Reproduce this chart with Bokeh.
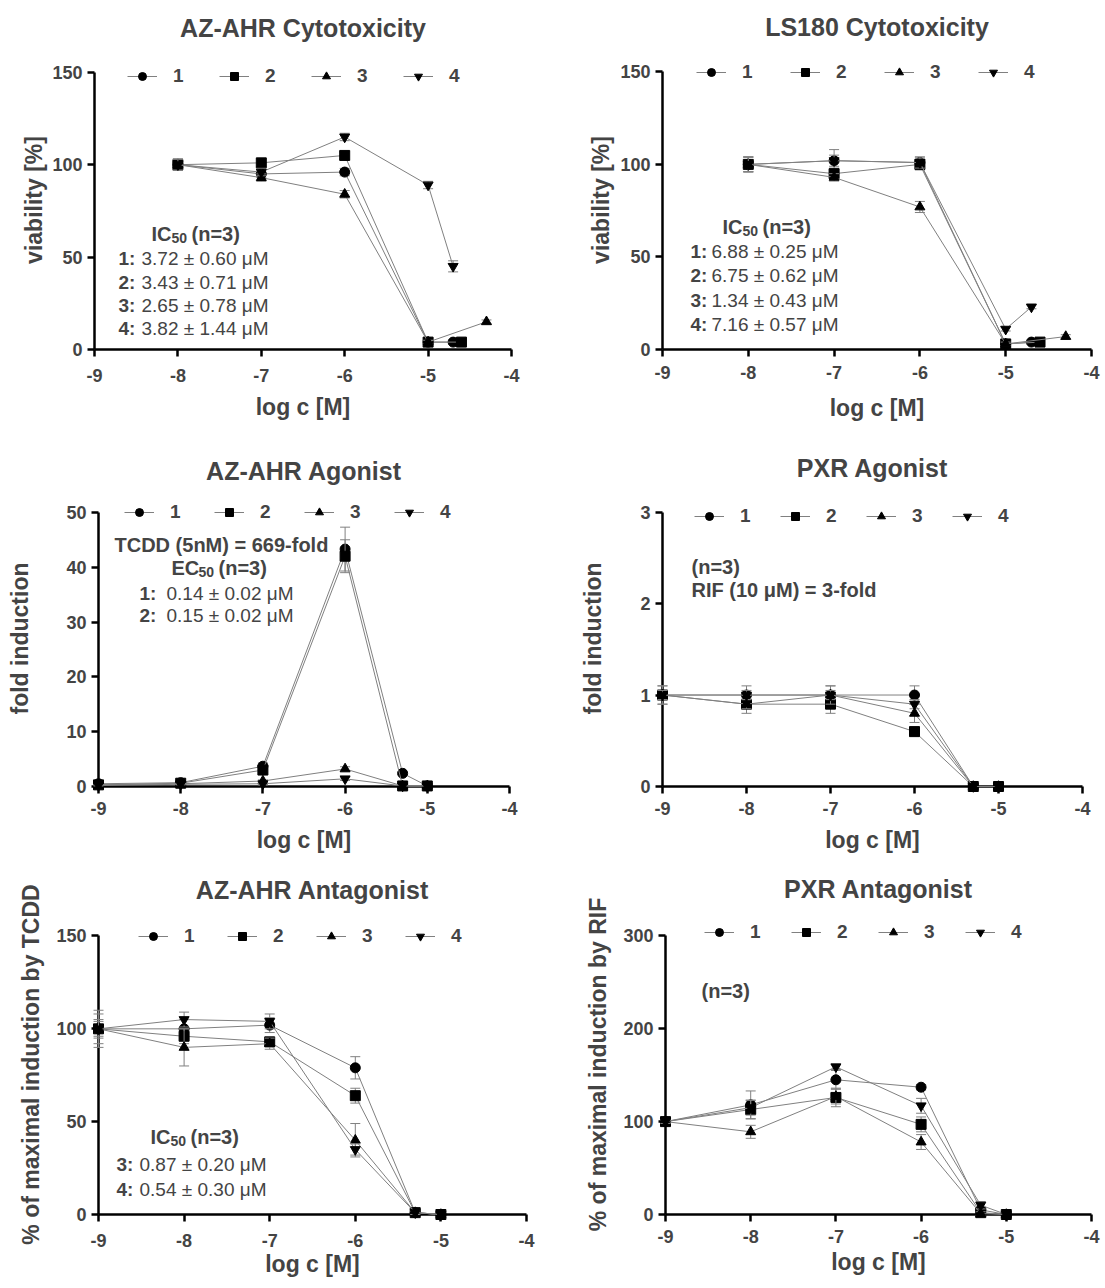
from bokeh.plotting import figure
from bokeh.models import Legend, LegendItem, Label, Range1d, FixedTicker
from bokeh.layouts import column, row
from bokeh.embed import file_html
from bokeh.resources import INLINE

FONT = "Liberation Sans"
LINE_COLOR = "#808080"
NAMES = ["1", "2", "3", "4"]
MARKERS = ["circle", "square", "triangle", "inverted_triangle"]
X_TICKS = [-9, -8, -7, -6, -5, -4]

# ---------------- Panel A: AZ-AHR Cytotoxicity ----------------
a_x1 = [-8, -7, -6, -5, -4.7]
a_x2 = [-8, -7, -6, -5, -4.6]
a_x3 = [-8, -7, -6, -5, -4.3]
a_x4 = [-8, -7, -6, -5, -4.7]
a_y1 = [100, 95, 96, 4, 4]
a_y2 = [100, 101, 105, 4, 4]
a_y3 = [100, 93, 84, 4, 15]
a_y4 = [100, 96, 115, 89, 45]
a_e1 = [3, 2, 2, 1, 1]
a_e2 = [3, 2, 2, 1, 1]
a_e3 = [3, 2, 2, 1, 1]
a_e4 = [3, 2, 2, 2, 3]
a_yticks = [0, 50, 100, 150]

# ---------------- Panel B: LS180 Cytotoxicity ----------------
b_x1 = [-8, -7, -6, -5, -4.7]
b_x2 = [-8, -7, -6, -5, -4.6]
b_x3 = [-8, -7, -6, -5, -4.3]
b_x4 = [-8, -7, -6, -5, -4.7]
b_y1 = [100, 102, 101, 3, 4]
b_y2 = [100, 95, 100, 3, 4]
b_y3 = [100, 93, 77, 3, 7]
b_y4 = [100, 102, 101, 11, 23]
b_e1 = [4, 6, 3, 1, 1]
b_e2 = [4, 3, 3, 1, 1]
b_e3 = [4, 2, 3, 1, 1]
b_e4 = [4, 3, 3, 1, 1]
b_yticks = [0, 50, 100, 150]

# ---------------- Panel C: AZ-AHR Agonist ----------------
c_x = [-9, -8, -7, -6, -5.3, -5]
c_y1 = [0.5, 0.7, 3.7, 43.3, 2.4, 0.1]
c_y2 = [0.3, 0.6, 3.0, 42.0, 0.1, 0.1]
c_y3 = [0.3, 0.5, 1.0, 3.2, 0.1, 0.1]
c_y4 = [0.2, 0.4, 0.5, 1.4, 0.1, 0.1]
c_e1 = [0.2, 0.2, 0.6, 4.0, 0.2, 0]
c_e2 = [0.2, 0.2, 0.5, 3.0, 0, 0]
c_e3 = [0.1, 0.1, 0.2, 0.4, 0, 0]
c_e4 = [0.1, 0.1, 0.2, 0.3, 0, 0]
c_yticks = [0, 10, 20, 30, 40, 50]

# ---------------- Panel D: PXR Agonist ----------------
d_x = [-9, -8, -7, -6, -5.3, -5]
d_y1 = [1.0, 1.0, 1.0, 1.0, 0, 0]
d_y2 = [1.0, 0.9, 0.9, 0.6, 0, 0]
d_y3 = [1.0, 0.9, 1.0, 0.8, 0, 0]
d_y4 = [1.0, 1.0, 1.0, 0.9, 0, 0]
d_e1 = [0.1, 0.1, 0.1, 0.1, 0, 0]
d_e2 = [0.1, 0.1, 0.1, 0.05, 0, 0]
d_e3 = [0.05, 0.05, 0.1, 0.1, 0, 0]
d_e4 = [0.05, 0.05, 0.05, 0.05, 0, 0]
d_yticks = [0, 1, 2, 3]

# ---------------- Panel E: AZ-AHR Antagonist ----------------
e_x = [-9, -8, -7, -6, -5.3, -5]
e_y1 = [100, 100, 102, 79, 1, 0]
e_y2 = [100, 96, 93, 64, 1, 0]
e_y3 = [100, 90, 92, 40, 1, 0]
e_y4 = [100, 105, 104, 35, 1, 0]
e_e1 = [10, 5, 4, 6, 1, 0]
e_e2 = [5, 4, 2, 4, 1, 0]
e_e3 = [8, 10, 3, 9, 1, 0]
e_e4 = [4, 4, 4, 3, 1, 0]
e_yticks = [0, 50, 100, 150]

# ---------------- Panel F: PXR Antagonist ----------------
f_x = [-9, -8, -7, -6, -5.3, -5]
f_y1 = [100, 118, 145, 137, 5, 0]
f_y2 = [100, 113, 126, 97, 2, 0]
f_y3 = [100, 89, 127, 78, 1, 0]
f_y4 = [100, 115, 159, 117, 10, 0]
f_e1 = [2, 15, 10, 3, 3, 0]
f_e2 = [2, 10, 10, 8, 2, 0]
f_e3 = [2, 7, 8, 8, 2, 0]
f_e4 = [2, 8, 3, 8, 4, 0]
f_yticks = [0, 100, 200, 300]

PAD = 22       # extra frame space above the top tick (px), keeps the legend unclipped
SHIFT = 7      # page offset


def make_panel(title, ylabel, xs, ys, es, yticks, width, height, borders,
               title_standoff, x_tick_standoff, x_label_standoff, y_label_standoff,
               legend_left, legend_top_gap, legend_spacing, notes):
    left, right, top, bottom = borders
    plot_h = height - top - bottom
    ymax = yticks[-1]
    yend = ymax + PAD * (ymax - yticks[0]) / plot_h
    p = figure(width=width, height=height, x_range=Range1d(-9, -4),
               y_range=Range1d(yticks[0], yend), output_backend="svg",
               toolbar_location=None, min_border_left=left, min_border_right=right,
               min_border_top=top - PAD, min_border_bottom=bottom, title=title)
    p.outline_line_color = None
    p.grid.visible = False
    p.background_fill_color = "white"
    p.border_fill_color = "white"

    p.title.align = "center"
    p.title.text_font = FONT
    p.title.text_font_size = "25px"
    p.title.text_font_style = "bold"
    p.title.standoff = title_standoff

    for ax, ticks in ((p.xaxis[0], X_TICKS), (p.yaxis[0], yticks)):
        ax.ticker = FixedTicker(ticks=ticks)
        ax.major_label_overrides = {t: ("%g" % t) for t in ticks}
        ax.axis_line_width = 2.5
        ax.major_tick_line_width = 2.5
        ax.major_tick_out = 7
        ax.major_tick_in = 0
        ax.minor_tick_line_color = None
        ax.major_label_text_font = FONT
        ax.major_label_text_font_size = "18px"
        ax.major_label_text_font_style = "bold"
        ax.axis_label_text_font = FONT
        ax.axis_label_text_font_size = "23px"
        ax.axis_label_text_font_style = "bold"
    p.yaxis.bounds = (yticks[0], ymax)
    p.xaxis.axis_label = "log c [M]"
    p.yaxis.axis_label = ylabel
    p.xaxis.major_label_standoff = x_tick_standoff
    p.xaxis.axis_label_standoff = x_label_standoff
    p.yaxis.major_label_standoff = 5
    p.yaxis.axis_label_standoff = y_label_standoff

    items = []
    for name, mk, x, y, e in zip(NAMES, MARKERS, xs, ys, es):
        lr = p.line(x, y, line_color=LINE_COLOR, line_width=1, level="overlay")
        bx = [xi for xi, ei in zip(x, e) if ei > 0]
        lo = [yi - ei for yi, ei in zip(y, e) if ei > 0]
        hi = [yi + ei for yi, ei in zip(y, e) if ei > 0]
        p.segment(bx, lo, bx, hi, line_color=LINE_COLOR, line_width=1, level="overlay")
        p.scatter(bx + bx, lo + hi, marker="dash", size=10, line_color=LINE_COLOR,
                  line_width=1, level="overlay")
        sr = p.scatter(x, y, marker=mk, size=10, fill_color="black", line_color="black",
                       level="overlay")
        items.append(LegendItem(label=name, renderers=[lr, sr]))

    legend = Legend(items=items, orientation="horizontal",
                    location=(legend_left, plot_h - legend_top_gap - 10),
                    glyph_width=30, glyph_height=20, label_height=20, label_width=20,
                    label_standoff=16, spacing=legend_spacing, padding=0, margin=0,
                    border_line_color=None, background_fill_alpha=0,
                    label_text_font=FONT, label_text_font_style="bold",
                    label_text_font_size="19px")
    p.add_layout(legend)

    for text, x, y, size, style in notes:
        p.add_layout(Label(x=x, y=y, x_units="screen", y_units="screen", text=text,
                           text_font=FONT, text_font_size=size, text_font_style=style,
                           text_baseline="middle", text_align="left"))
    return p


def ic_block(prefix, x0, y0, rows, x_num, x_val, ys):
    notes = [(prefix, x0, y0, "20px", "bold"),
             ("50", x0 + (20 if prefix == "IC" else 27), y0 - 4, "14px", "bold"),
             ("(n=3)", x0 + (40 if prefix == "IC" else 47), y0, "20px", "bold")]
    for (num, val), yy in zip(rows, ys):
        notes.append((num, x_num, yy, "19px", "bold"))
        notes.append((val, x_val, yy, "19px", "normal"))
    return notes


pA = make_panel("AZ-AHR Cytotoxicity", "viability [%]",
                [a_x1, a_x2, a_x3, a_x4], [a_y1, a_y2, a_y3, a_y4], [a_e1, a_e2, a_e3, a_e4],
                a_yticks, 547 + SHIFT, 432 + SHIFT, (87 + SHIFT, 43, 62 + SHIFT, 90),
                18, 12, 9, 2,
                33, 8, 26,
                ic_block("IC", 57, 116, [("1:", "3.72 \u00b1 0.60 \u03bcM"),
                                         ("2:", "3.43 \u00b1 0.71 \u03bcM"),
                                         ("3:", "2.65 \u00b1 0.78 \u03bcM"),
                                         ("4:", "3.82 \u00b1 1.44 \u03bcM")],
                         24, 47, [91, 67, 44, 21]))

pB = make_panel("LS180 Cytotoxicity", "viability [%]",
                [b_x1, b_x2, b_x3, b_x4], [b_y1, b_y2, b_y3, b_y4], [b_e1, b_e2, b_e3, b_e4],
                b_yticks, 549, 432 + SHIFT, (108, 12, 59 + SHIFT, 87),
                20, 9, 13, 3,
                34, 10, 28,
                ic_block("IC", 60, 123, [("1:", "6.88 \u00b1 0.25 \u03bcM"),
                                         ("2:", "6.75 \u00b1 0.62 \u03bcM"),
                                         ("3:", "1.34 \u00b1 0.43 \u03bcM"),
                                         ("4:", "7.16 \u00b1 0.57 \u03bcM")],
                         28, 49, [98, 74, 49, 25]))

notesC = [("TCDD (5nM) = 669-fold", 16, 242, "20px", "bold")] + \
    ic_block("EC", 73, 219, [("1:", "0.14 \u00b1 0.02 \u03bcM"),
                             ("2:", "0.15 \u00b1 0.02 \u03bcM")], 41, 68, [193, 171])
pC = make_panel("AZ-AHR Agonist", "fold induction",
                [c_x] * 4, [c_y1, c_y2, c_y3, c_y4], [c_e1, c_e2, c_e3, c_e4],
                c_yticks, 547 + SHIFT, 422, (91 + SHIFT, 45, 73, 73),
                11, 8, 9, 30,
                26, 3, 24, notesC)

notesD = [("(n=3)", 29, 220, "20px", "bold"),
          ("RIF (10 \u03bcM) = 3-fold", 29, 197, "20px", "bold")]
pD = make_panel("PXR Agonist", "fold induction",
                [d_x] * 4, [d_y1, d_y2, d_y3, d_y4], [d_e1, d_e2, d_e3, d_e4],
                d_yticks, 549, 422, (108, 21, 67, 75),
                17, 8, 9, 31,
                32, 11, 20, notesD)

pE = make_panel("AZ-AHR Antagonist", "% of maximal induction by TCDD",
                [e_x] * 4, [e_y1, e_y2, e_y3, e_y4], [e_e1, e_e2, e_e3, e_e4],
                e_yticks, 547 + SHIFT, 418, (91 + SHIFT, 28, 73, 60),
                21, 12, 1, 9,
                40, 8, 23,
                ic_block("IC", 52, 78, [("3:", "0.87 \u00b1 0.20 \u03bcM"),
                                        ("4:", "0.54 \u00b1 0.30 \u03bcM")],
                         18, 41, [50, 25]))

notesF = [("(n=3)", 36, 224, "20px", "bold")]
pF = make_panel("PXR Antagonist", "% of maximal induction by RIF",
                [f_x] * 4, [f_y1, f_y2, f_y3, f_y4], [f_e1, f_e2, f_e3, f_e4],
                f_yticks, 549, 418, (111, 12, 68, 62),
                23, 8, 3, 9,
                39, 7, 21, notesF)

layout = column(row(pA, pB, spacing=0), row(pC, pD, spacing=0), row(pE, pF, spacing=0),
                spacing=0)

with open("out.html", "w") as fh:
    fh.write(file_html(layout, INLINE))
